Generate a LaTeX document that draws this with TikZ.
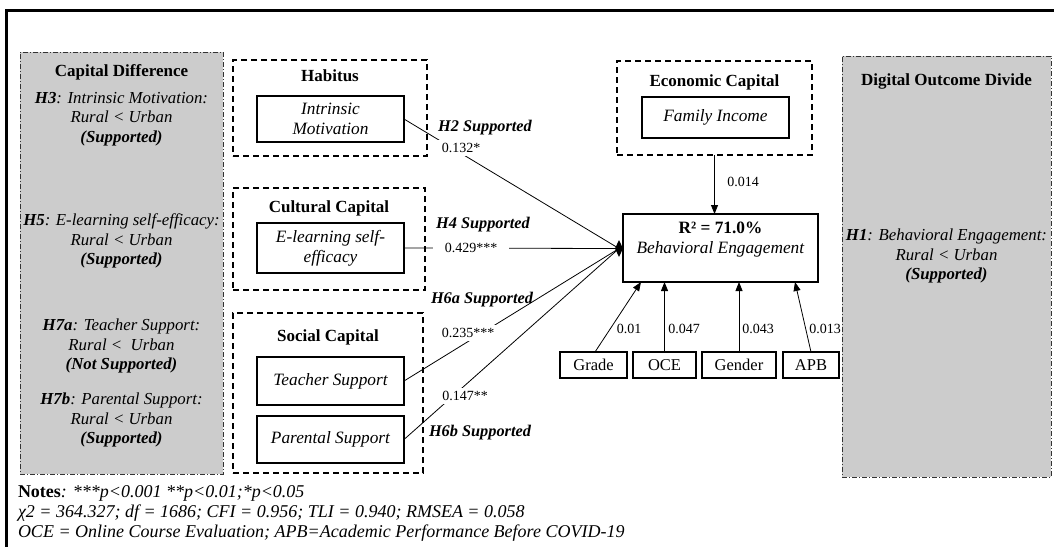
\documentclass[tikz,border=0pt]{standalone}
\usepackage{fontspec}
\setmainfont{Liberation Serif}
\usetikzlibrary{arrows.meta,calc}
\definecolor{capgray}{RGB}{204,204,204}
\begin{document}
\begin{tikzpicture}[x=1pt,y=-1pt,
  every node/.style={inner sep=0pt, outer sep=0pt},
  txt/.style={font=\fontsize{16.8}{19.5}\selectfont, align=center},
  ttl/.style={font=\fontsize{17}{20}\selectfont\bfseries},
  grpbox/.style={draw, line width=1.3pt, dash pattern=on 6pt off 4pt},
  graybox/.style={draw=black!80, fill=capgray, line width=1pt, dash pattern=on 5pt off 2pt on 1pt off 2pt},
  varbox/.style={draw, line width=1.2pt, font=\fontsize{17.3}{20}\selectfont\itshape, align=center},
  ctrl/.style={draw, line width=1.2pt, font=\fontsize{16.5}{20}\selectfont},
  coef/.style={fill=white, inner xsep=6pt, inner ysep=3pt, font=\fontsize{14}{16}\selectfont},
  coefplain/.style={font=\fontsize{14}{16}\selectfont},
  hyp/.style={font=\fontsize{16.3}{19}\selectfont\bfseries\itshape},
  conn/.style={line width=0.8pt},
  arr/.style={line width=0.8pt, -{Triangle[length=9pt,width=7pt]}},
  notes/.style={anchor=base west, font=\fontsize{18}{20}\selectfont},
]
\useasboundingbox (0,0) rectangle (1054,547);
% outer frame
\draw[line width=3pt] (1054,10) -- (6,10) -- (6,547);

% gray boxes
\node[graybox, minimum width=203pt, minimum height=422pt] (cd) at (121.5,263) {};
\node[ttl] (cdt) at (121.5,72) {Capital Difference};
\node[txt] (h3) at (121.5,119) {\textbf{\textit{H3}}\textit{: Intrinsic Motivation:}\\\textit{Rural < Urban}\\\textbf{\textit{(Supported)}}};
\node[txt] (h5) at (121.5,241) {\textbf{\textit{H5}}\textit{: E-learning self-efficacy:}\\\textit{Rural < Urban}\\\textbf{\textit{(Supported)}}};
\node[txt] (h7a) at (121.5,346) {\textbf{\textit{H7a}}\textit{: Teacher Support:}\\\textit{Rural <\ \ Urban}\\\textbf{\textit{(Not Supported)}}};
\node[txt] (h7b) at (121.5,420) {\textbf{\textit{H7b}}\textit{: Parental Support:}\\\textit{Rural < Urban}\\\textbf{\textit{(Supported)}}};

\node[graybox, minimum width=209pt, minimum height=421pt] (dod) at (946.5,266.5) {};
\node[ttl] (dodt) at (946.5,81) {Digital Outcome Divide};
\node[txt] (h1) at (946.5,256) {\textbf{\textit{H1}}\textit{: Behavioral Engagement:}\\\textit{Rural < Urban}\\\textbf{\textit{(Supported)}}};

% Habitus
\node[grpbox, minimum width=194pt, minimum height=96pt] (hab) at (330,108) {};
\node[ttl] (habt) at (330,76) {Habitus};
\node[varbox, minimum width=147pt, minimum height=46pt] (im) at (330.5,119) {Intrinsic\\Motivation};

% Cultural
\node[grpbox, minimum width=192pt, minimum height=102pt] (cul) at (329,239) {};
\node[ttl] (cult) at (329,208) {Cultural Capital};
\node[varbox, minimum width=147pt, minimum height=50pt] (el) at (330.5,248) {E-learning self-\\efficacy};

% Social
\node[grpbox, minimum width=190pt, minimum height=160pt] (soc) at (328,393) {};
\node[ttl] (soct) at (328,337) {Social Capital};
\node[varbox, minimum width=147pt, minimum height=48pt] (ts) at (330.5,381) {Teacher Support};
\node[varbox, minimum width=147pt, minimum height=47pt] (ps) at (330.5,439.5) {Parental Support};

% Economic
\node[grpbox, minimum width=195pt, minimum height=94pt] (ec) at (714.5,108) {};
\node[ttl] (ect) at (714.5,82) {Economic Capital};
\node[varbox, minimum width=147pt, minimum height=41pt] (fi) at (715.5,117.5) {Family Income};

% Behavioral engagement
\node[draw, line width=1.2pt, minimum width=195pt, minimum height=68pt] (be) at (720.5,248) {};
\node[txt, font=\fontsize{17.3}{20}\selectfont] (bet) at (720.5,240) {\textbf{R² = 71.0\%}\\\textit{Behavioral Engagement}};

% controls
\node[ctrl, minimum width=67pt, minimum height=26pt] (grade) at (593.5,365) {Grade};
\node[ctrl, minimum width=63pt, minimum height=26pt] (oce) at (664.5,365) {OCE};
\node[ctrl, minimum width=74pt, minimum height=26pt] (gender) at (739,365) {Gender};
\node[ctrl, minimum width=56pt, minimum height=26pt] (apb) at (811,365) {APB};

% paths into BE
\coordinate (dm) at ($(be.west)+(-4,0.5)$);
\draw[conn] (im.east) -- (dm);
\draw[conn] (el.east) -- (dm);
\draw[conn] (ts.east) -- (dm);
\draw[conn] (ps.east) -- (dm);
\fill ($(dm)+(-4,0)$) -- ($(dm)+(0,-8.5)$) -- ($(dm)+(4,0)$) -- ($(dm)+(0,8.5)$) -- cycle;

\node[hyp] (h2l) at (485,128) {H2 Supported};
\node[coef] (c132) at (461,148) {0.132*};
\node[hyp] (h4l) at (483,225) {H4 Supported};
\node[coef, inner xsep=12pt] (c429) at (471,248) {0.429***};
\node[hyp] (h6al) at (482,300) {H6a Supported};
\node[coef] (c235) at (468,333) {0.235***};
\node[coef] (c147) at (465,396) {0.147**};
\node[hyp] (h6bl) at (480,433) {H6b Supported};

% economic arrow
\draw[arr] (ec.south) -- (ec.south |- be.north);
\node[coefplain] (c014) at (743,182) {0.014};

% control arrows
\draw[arr] ($(grade.north)+(1.5,0)$) -- ($(be.south west)+(18,0)$);
\draw[arr] (oce.north) -- (oce.north |- be.south);
\draw[arr] (gender.north) -- (gender.north |- be.south);
\draw[arr] (apb.north) -- ($(be.south west)+(172,0)$);
\node[coefplain] (c01) at (629,329) {0.01};
\node[coefplain] (c047) at (684,329) {0.047};
\node[coefplain] (c043) at (758,329) {0.043};
\node[coefplain] (c013) at (825,329) {0.013};

% notes
\node[notes] (n1) at (18,497) {\textbf{Notes}\textit{: ***p<0.001 **p<0.01;*p<0.05}};
\node[notes] (n2) at (18,517) {\textit{χ2 = 364.327; df = 1686; CFI = 0.956; TLI = 0.940; RMSEA = 0.058}};
\node[notes] (n3) at (18,537) {\textit{OCE = Online Course Evaluation; APB=Academic Performance Before COVID-19}};
\end{tikzpicture}
\end{document}
